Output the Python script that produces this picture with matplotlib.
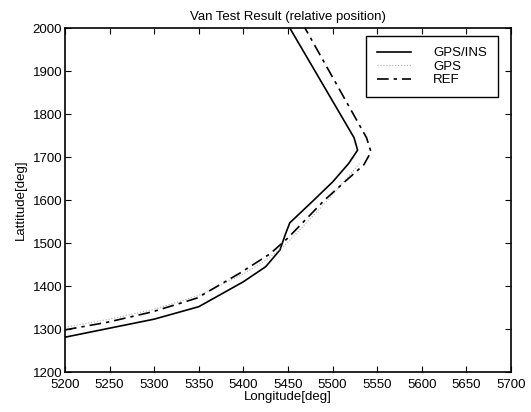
import matplotlib
matplotlib.use("Agg")
import matplotlib.pyplot as plt

plt.rcParams["font.family"] = ["Liberation Sans", "DejaVu Sans"]

# GPS/INS (solid)
ins_lon = [5200, 5250, 5300, 5350, 5400, 5425, 5441, 5447, 5452, 5478, 5500, 5518, 5528, 5524, 5452]
ins_lat = [1281, 1302, 1323, 1352, 1410, 1445, 1484, 1520, 1547, 1598, 1642, 1685, 1716, 1745, 2000]

# GPS (dotted, faint)
gps_lon = [5200, 5250, 5300, 5350, 5400, 5425, 5445, 5462, 5490, 5515, 5530]
gps_lat = [1304, 1323, 1346, 1378, 1428, 1460, 1492, 1528, 1590, 1648, 1685]

# REF (dash-dot)
ref_lon = [5200, 5248, 5298, 5348, 5396, 5430, 5450, 5470, 5491, 5515, 5535, 5543, 5538, 5469]
ref_lat = [1298, 1316, 1340, 1372, 1430, 1475, 1512, 1555, 1600, 1645, 1682, 1712, 1745, 2000]

fig = plt.figure(figsize=(5.31, 4.12), dpi=100)
ax = fig.add_axes([0.1224, 0.097, 0.84, 0.835])

ax.plot(ins_lon, ins_lat, "-", color="black", lw=1.2, label="GPS/INS")
ax.plot(gps_lon, gps_lat, ":", color="#aaaaaa", lw=0.8, label="GPS")
ax.plot(ref_lon, ref_lat, color="black", lw=1.2, dashes=(7, 3, 2, 3), label="REF")

ax.set_xlim(5200, 5700)
ax.set_ylim(1200, 2000)
ax.set_xticks(range(5200, 5701, 50))
ax.set_yticks(range(1200, 2001, 100))
ax.tick_params(direction="in", top=True, right=True, labelsize=9.5, length=4)
ax.tick_params(axis="x", pad=5)
ax.tick_params(axis="y", pad=2)
for s in ax.spines.values():
    s.set_linewidth(1.2)

ax.set_title("Van Test Result (relative position)", fontsize=9.5, pad=6)
ax.set_xlabel("Longitude[deg]", fontsize=9.5, labelpad=0)
ax.set_ylabel("Lattitude[deg]", fontsize=9.5, labelpad=4)

leg = ax.legend(loc="upper right", bbox_to_anchor=(0.985, 0.995), fontsize=9.5,
                handlelength=2.6, handletextpad=1.7, labelspacing=0.1, borderpad=0.8,
                fancybox=False, framealpha=1, edgecolor="black")
leg.get_frame().set_linewidth(1.0)

fig.savefig("out.png", dpi=100)
